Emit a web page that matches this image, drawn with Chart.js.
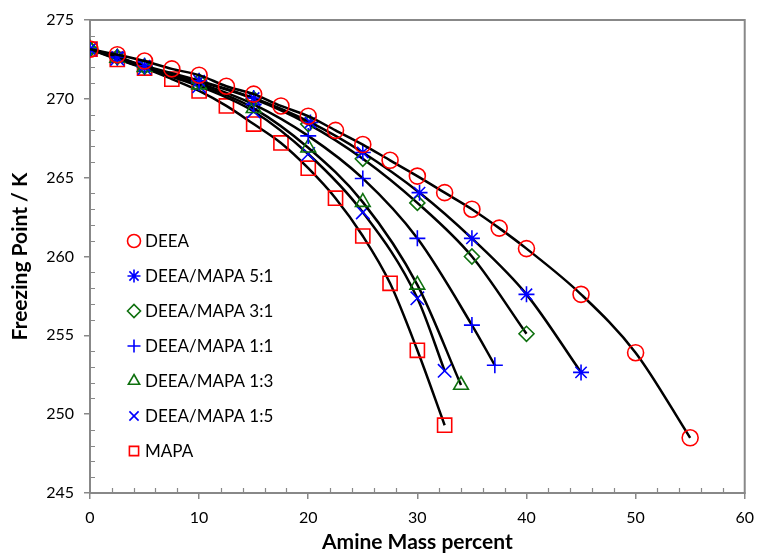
<!DOCTYPE html>
<html>
<head>
<meta charset="utf-8">
<script src="https://cdn.jsdelivr.net/npm/chart.js@4.4.1/dist/chart.umd.min.js"></script>
<style>
  body { margin: 0; background: #fff; }
  #wrap { width: 763px; height: 559px; }
</style>
</head>
<body>
<div id="wrap"><canvas id="fp" width="763" height="559"></canvas></div>
<script>
// freezing point data
var names = ["DEEA", "DEEA/MAPA 5:1", "DEEA/MAPA 3:1", "DEEA/MAPA 1:1", "DEEA/MAPA 1:3", "DEEA/MAPA 1:5", "MAPA"];

var x_deea = [0, 2.5, 5, 7.5, 10, 12.5, 15, 17.5, 20, 22.5, 25, 27.5, 30, 32.5, 35, 37.5, 40, 45, 50, 55];
var y_deea = [273.15, 272.8, 272.4, 271.9, 271.5, 270.8, 270.3, 269.55, 268.9, 268.0, 267.1, 266.1, 265.1, 264.05, 263.0, 261.8, 260.5, 257.6, 253.9, 248.5];

var x_51 = [0, 2.5, 5, 10, 15, 20.2, 25, 30.2, 35, 40, 45];
var y_51 = [273.15, 272.65, 272.1, 271.15, 270.05, 268.5, 266.6, 264.05, 261.15, 257.6, 252.65];

var x_31 = [0, 2.5, 5, 10, 15, 20, 25, 30, 35, 40];
var y_31 = [273.15, 272.65, 272.05, 271.1, 270.0, 268.4, 266.2, 263.4, 260.0, 255.1];

var x_11 = [0, 2.5, 5, 10, 15, 20, 25, 30, 35, 37.1];
var y_11 = [273.15, 272.6, 272.0, 271.0, 269.65, 267.65, 264.95, 261.15, 255.65, 253.1];

var x_13 = [0, 2.5, 5, 10, 15, 20, 25, 30, 34];
var y_13 = [273.15, 272.6, 272.0, 270.9, 269.4, 266.9, 263.45, 258.2, 251.85];

var x_15 = [0, 2.5, 5, 10, 15, 20, 25, 30, 32.5];
var y_15 = [273.15, 272.55, 271.95, 270.8, 269.2, 266.5, 262.8, 257.35, 252.75];

var x_mapa = [0, 2.5, 5, 7.5, 10, 12.5, 15, 17.5, 20, 22.5, 25, 27.5, 30, 32.5];
var y_mapa = [273.15, 272.5, 271.95, 271.25, 270.5, 269.55, 268.4, 267.2, 265.6, 263.7, 261.3, 258.3, 254.05, 249.3];

var xs = [x_deea, x_51, x_31, x_11, x_13, x_15, x_mapa];
var ys = [y_deea, y_51, y_31, y_11, y_13, y_15, y_mapa];

var styles = ["circle", "star", "rectRot", "cross", "triangle", "crossRot", "rect"];
var colors = ["#ff0000", "#0000ff", "#0e700e", "#0000ff", "#0e700e", "#0000ff", "#ff0000"];
var radii  = [8, 8, 7.5, 8, 8.5, 9.5, 10];

var gray = "#888888";
var font = "Lato, 'Liberation Sans', sans-serif";

function pts(xa, ya) {
	var out = [];
	for (var i = 0; i < xa.length; i++) out.push({x: xa[i], y: ya[i]});
	return out;
}

var sets = [];
for (var i = 0; i < names.length; i++) {
	sets.push({
		label: names[i],
		data: pts(xs[i], ys[i]),
		showLine: true,
		borderColor: "#000",
		borderWidth: 2.5,
		cubicInterpolationMode: "monotone",
		pointStyle: styles[i],
		pointRadius: radii[i],
		pointHoverRadius: radii[i],
		pointBorderColor: colors[i],
		pointBackgroundColor: "rgba(0,0,0,0)",
		pointBorderWidth: 1.6
	});
}

// frame + minor ticks + legend inside the plot
var frame = {
	id: "frame",
	beforeDatasetsDraw: function(chart) {
		var c = chart.ctx, a = chart.chartArea;
		var sx = chart.scales.x, sy = chart.scales.y;
		c.save();
		c.strokeStyle = gray;
		c.lineWidth = 2;
		c.strokeRect(a.left, a.top, a.right - a.left, a.bottom - a.top);
		c.lineWidth = 1.2;
		c.beginPath();
		for (var v = 246; v < 275; v++) {
			if (v % 5 == 0) continue;
			var py = Math.round(sy.getPixelForValue(v)) + 0.5;
			c.moveTo(a.left, py); c.lineTo(a.left + 5, py);
		}
		for (var u = 2; u < 60; u += 2) {
			if (u % 10 == 0) continue;
			var px = Math.round(sx.getPixelForValue(u)) + 0.5;
			c.moveTo(px, a.bottom); c.lineTo(px, a.bottom - 5);
		}
		c.stroke();
		c.restore();
	},
	afterDraw: function(chart) {
		var c = chart.ctx;
		c.save();
		c.font = "17px " + font;
		c.textBaseline = "middle";
		for (var i = 0; i < names.length; i++) {
			var y = 241 + i * 35;
			c.strokeStyle = colors[i];
			c.fillStyle = "rgba(0,0,0,0)";
			c.lineWidth = 1.6;
			Chart.helpers.drawPoint(c, {pointStyle: styles[i], rotation: 0, borderWidth: 1.6, radius: 6.5}, 134, y);
			c.fillStyle = "#000";
			c.fillText(names[i], 145, y + 1);
		}
		c.restore();
	}
};

var chart = new Chart(document.getElementById("fp"), {
	type: "scatter",
	data: { datasets: sets },
	plugins: [frame],
	options: {
		responsive: false,
		animation: false,
		layout: { padding: { top: 20, right: 11, left: 0, bottom: 0 } },
		plugins: {
			legend: { display: false },
			tooltip: { enabled: false }
		},
		scales: {
			x: {
				type: "linear",
				min: 0, max: 60,
				afterFit: function(s) { s.height = 66; },
				border: { color: gray, width: 2 },
				grid: { drawOnChartArea: false, drawTicks: true, tickLength: 6, color: gray, lineWidth: 1.5 },
				ticks: { stepSize: 10, color: "#000", font: { family: font, size: 16 }, padding: 9 },
				title: { display: true, text: "Amine Mass percent", color: "#000", font: { family: font, size: 21, weight: "bold" }, padding: { top: 2 } }
			},
			y: {
				type: "linear",
				min: 245, max: 275,
				afterFit: function(s) { s.width = 90; },
				border: { color: gray, width: 2 },
				grid: { drawOnChartArea: false, drawTicks: true, tickLength: 6, color: gray, lineWidth: 1.5 },
				ticks: { stepSize: 5, color: "#000", font: { family: font, size: 16 }, padding: 10 },
				title: { display: true, text: "Freezing Point / K", color: "#000", font: { family: font, size: 21, weight: "bold" }, padding: { top: 8, bottom: 2 } }
			}
		}
	}
});
</script>
</body>
</html>
